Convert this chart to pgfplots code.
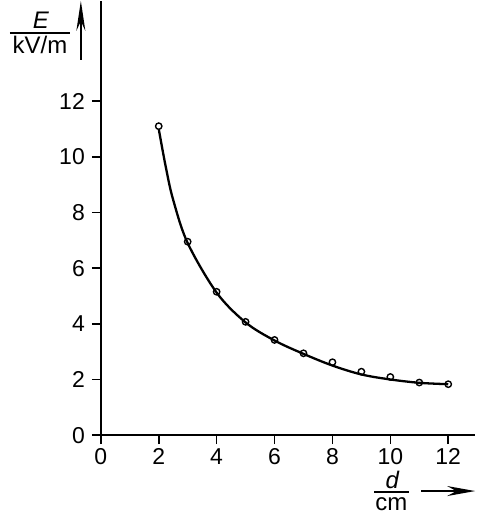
\documentclass[border=0pt]{standalone}
\usepackage{fontspec}
\setmainfont{Liberation Sans}
\usepackage{pgfplots}
\pgfplotsset{compat=1.18}
\usetikzlibrary{arrows.meta}

\begin{document}
\begin{tikzpicture}
% 1 px of the reference = 0.5pt; axis origin at (0,0)
\begin{axis}[
  at={(0,0)}, anchor=south west,
  scale only axis, width=187.5pt, height=217.5pt,
  xmin=0, xmax=12.93, ymin=0, ymax=15.6,
  xtick={0,2,4,6,8,10,12}, ytick={0,2,4,6,8,10,12},
  axis lines*=left,
  axis line style={black, line width=0.9pt},
  tick style={black, line width=0.8pt},
  tick align=outside, major tick length=4.5pt,
  tick label style={font=\fontsize{11.5}{13}\selectfont},
  xticklabel style={inner sep=2pt},
  /pgf/number format/assume math mode=true,
  clip=false,
]
% smooth curve through the measurements
\addplot[black, line width=1.15pt, smooth, tension=0.55, mark=none] coordinates {
  (2,11.0) (2.25,9.6) (2.5,8.45) (3,6.9) (4,5.12) (5,4.05) (6,3.4)
  (7,2.92) (8,2.5) (9,2.18) (10,2.0) (11,1.88) (12,1.83)
};
% measured points
\addplot[only marks, mark=o, mark size=1.6pt, mark options={black, line width=0.7pt, fill=white}]
  coordinates {
  (2,11.1) (3,6.95) (4,5.15) (5,4.07) (6,3.42) (7,2.94)
  (8,2.62) (9,2.28) (10,2.09) (11,1.89) (12,1.83)
};
\end{axis}
\path[use as bounding box] (-50.5pt,-41.5pt) rectangle (187.5pt,217.5pt);
% y label E / (kV/m) with arrow
\node[anchor=base, inner sep=0pt, font=\fontsize{12}{13}\selectfont\itshape] at (-30pt,203.5pt) {E};
\draw[line width=0.7pt] (-45.5pt,201.5pt) -- (-15.5pt,201.5pt);
\node[anchor=base, inner sep=0pt, font=\fontsize{12}{13}\selectfont] at (-30.5pt,191pt) {kV/m};
\draw[line width=0.9pt, -{Stealth[length=15pt,width=4.5pt]}] (-10pt,188pt) -- (-10pt,217.5pt);
% x label d / cm with arrow
\node[anchor=base, inner sep=0pt, font=\fontsize{12}{13}\selectfont\itshape] at (146pt,-26.5pt) {d};
\draw[line width=0.7pt] (137pt,-28.5pt) -- (154.5pt,-28.5pt);
\node[anchor=base, inner sep=0pt, font=\fontsize{12}{13}\selectfont] at (145.5pt,-37.5pt) {cm};
\draw[line width=0.9pt, -{Stealth[length=14pt,width=5pt]}] (160.5pt,-28pt) -- (187.5pt,-28pt);
\end{tikzpicture}
\end{document}
